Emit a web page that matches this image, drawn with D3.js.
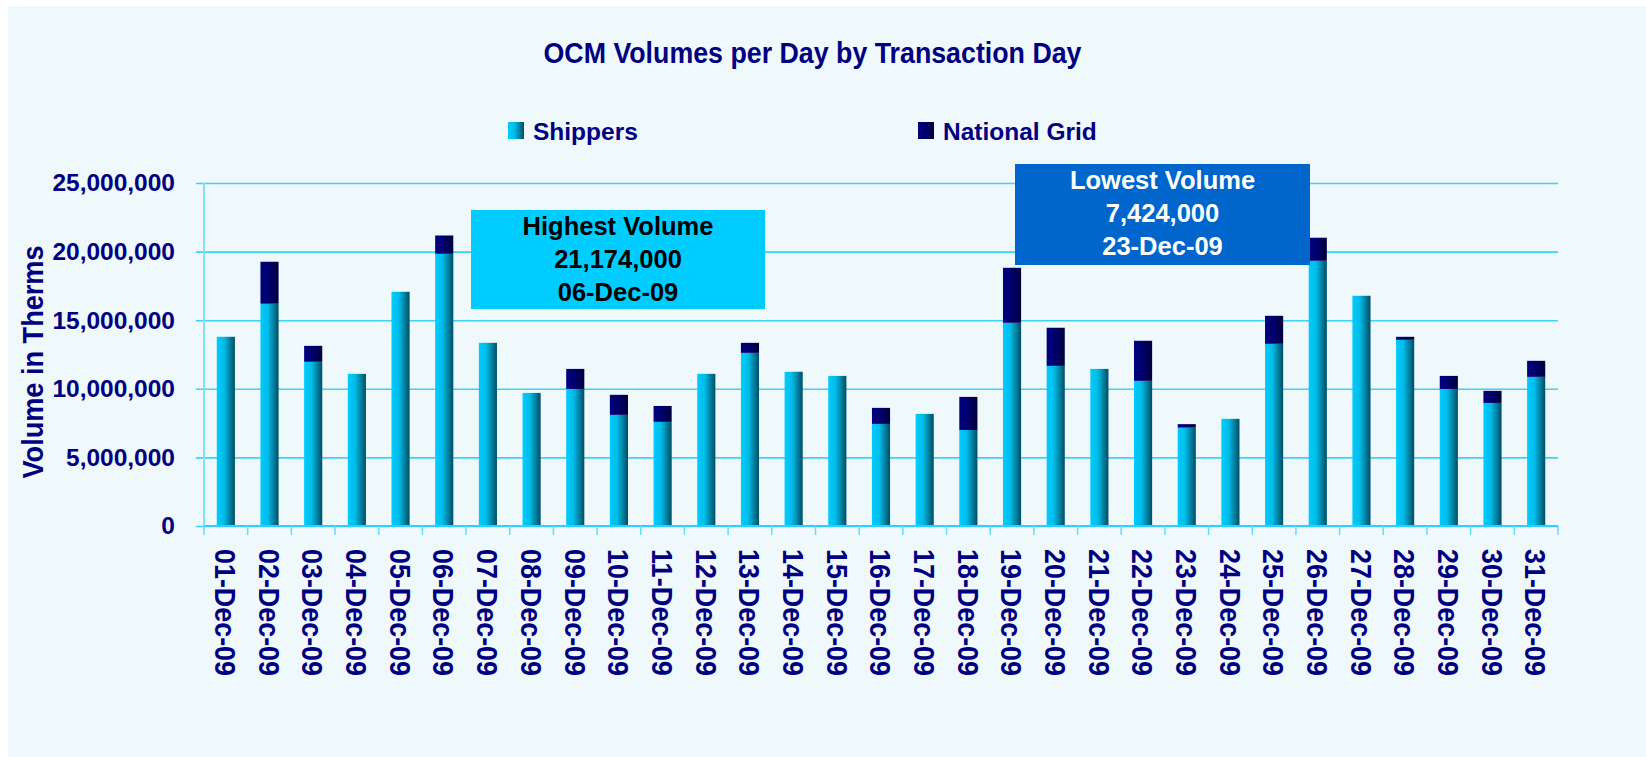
<!DOCTYPE html>
<html>
<head>
<meta charset="utf-8">
<script src="https://cdn.jsdelivr.net/npm/d3@7/dist/d3.min.js"></script>
<style>
    body { margin: 0; background: #ffffff; }
    text { font-family: "Liberation Sans", Arial, sans-serif; font-weight: bold; }
</style>
</head>
<body>
<div id="chart"></div>
<script>
var days = ["01-Dec-09", "02-Dec-09", "03-Dec-09", "04-Dec-09", "05-Dec-09", "06-Dec-09", "07-Dec-09", "08-Dec-09",
    "09-Dec-09", "10-Dec-09", "11-Dec-09", "12-Dec-09", "13-Dec-09", "14-Dec-09", "15-Dec-09", "16-Dec-09",
    "17-Dec-09", "18-Dec-09", "19-Dec-09", "20-Dec-09", "21-Dec-09", "22-Dec-09", "23-Dec-09", "24-Dec-09",
    "25-Dec-09", "26-Dec-09", "27-Dec-09", "28-Dec-09", "29-Dec-09", "30-Dec-09", "31-Dec-09"];
var shippers = [13790000, 16200000, 11970000, 11090000, 17070000, 19840000, 13350000, 9700000,
    9990000, 8100000, 7590000, 11090000, 12620000, 11240000, 10940000, 7440000,
    8170000, 7000000, 14810000, 11670000, 11450000, 10580000, 7170000, 7810000,
    13280000, 19330000, 16780000, 13570000, 9990000, 8970000, 10870000];
var nationalGrid = [0, 3060000, 1160000, 0, 0, 1334000, 0, 0,
    1460000, 1460000, 1160000, 0, 730000, 0, 0, 1170000,
    0, 2410000, 4010000, 2780000, 0, 2920000, 254000, 0,
    2040000, 1680000, 0, 220000, 950000, 880000, 1170000];
var seriesNames = ["Shippers", "National Grid"];
var yTicks = [0, 5000000, 10000000, 15000000, 20000000, 25000000];
var title = "OCM Volumes per Day by Transaction Day";
var yTitle = "Volume in Therms";

var margin = { top: 183, right: 88, bottom: 231, left: 204 },
    width = 1646 - margin.left - margin.right,
    height = 757 - margin.top - margin.bottom;
var navy = "#000080";
var gridColor = "#3fd2f4";

var svg = d3.select("#chart").append("svg")
    .attr("width", 1646)
    .attr("height", 757);

// gradients for the bar fills
var defs = svg.append("defs");
var gradShip = defs.append("linearGradient").attr("id", "gShip");
gradShip.append("stop").attr("offset", "0%").attr("stop-color", "#00ccff");
gradShip.append("stop").attr("offset", "40%").attr("stop-color", "#00bde9");
gradShip.append("stop").attr("offset", "100%").attr("stop-color", "#004d63");
var gradNg = defs.append("linearGradient").attr("id", "gNg");
gradNg.append("stop").attr("offset", "0%").attr("stop-color", "#000080");
gradNg.append("stop").attr("offset", "45%").attr("stop-color", "#00006e");
gradNg.append("stop").attr("offset", "100%").attr("stop-color", "#00003c");
var fills = ["url(#gShip)", "url(#gNg)"];

svg.append("rect")
    .attr("x", 8).attr("y", 6)
    .attr("width", 1646 - 8).attr("height", 757 - 6)
    .attr("fill", "#eff8fa");

svg.append("text")
    .attr("x", 812.5).attr("y", 63)
    .attr("text-anchor", "middle")
    .attr("font-size", 29)
    .attr("textLength", 538)
    .attr("lengthAdjust", "spacingAndGlyphs")
    .attr("fill", navy)
    .text(title);

// legend
var legendX = [508, 918];
var legend = svg.selectAll(".legend")
    .data(seriesNames)
    .enter().append("g")
    .attr("class", "legend")
    .attr("transform", function (d, i) { return "translate(" + legendX[i] + ",122)"; });
legend.append("rect")
    .attr("width", 16).attr("height", 17)
    .attr("fill", function (d, i) { return fills[i]; });
legend.append("text")
    .attr("x", 25).attr("y", 17.5)
    .attr("font-size", 24.5)
    .attr("fill", navy)
    .text(function (d) { return d; });

var g = svg.append("g")
    .attr("transform", "translate(" + margin.left + "," + margin.top + ")");

var x = d3.scaleBand()
    .domain(days)
    .range([0, width])
    .paddingInner(0.585)
    .paddingOuter(0.2925);
var y = d3.scaleLinear()
    .domain([0, 25000000])
    .range([height, 0]);

// gridlines and y labels
var yAxis = d3.axisLeft(y)
    .tickValues(yTicks)
    .tickFormat(d3.format(","))
    .tickSizeInner(-width - 8)
    .tickSizeOuter(0)
    .tickPadding(21);
var yg = g.append("g")
    .attr("transform", "translate(-8,0)")
    .call(yAxis);
yg.select(".domain").remove();
yg.selectAll(".tick line")
    .attr("stroke", gridColor)
    .attr("stroke-width", 1.6);
yg.selectAll(".tick text")
    .attr("font-size", 24.5)
    .attr("font-family", "Liberation Sans, Arial, sans-serif")
    .attr("fill", navy);

g.append("line")
    .attr("x1", 0).attr("x2", 0)
    .attr("y1", 0).attr("y2", height)
    .attr("stroke", "#7fe2fa")
    .attr("stroke-width", 2);

// stacked bars
var rows = days.map(function (d, i) {
    return { day: d, shippers: shippers[i], nationalGrid: nationalGrid[i] };
});
var stack = d3.stack().keys(["shippers", "nationalGrid"]);
var layers = g.selectAll(".layer")
    .data(stack(rows))
    .enter().append("g")
    .attr("class", "layer")
    .attr("fill", function (d, i) { return fills[i]; });
layers.selectAll("rect")
    .data(function (d) { return d.filter(function (p) { return p[1] > p[0]; }); })
    .enter().append("rect")
    .attr("x", function (d) { return x(d.data.day); })
    .attr("y", function (d) { return y(d[1]); })
    .attr("width", x.bandwidth())
    .attr("height", function (d) { return y(d[0]) - y(d[1]); });

// x axis with ticks between categories
g.append("line")
    .attr("x1", 0).attr("x2", width)
    .attr("y1", height).attr("y2", height)
    .attr("stroke", "#33ccff")
    .attr("stroke-width", 2);
g.selectAll(".xtick")
    .data(d3.range(days.length + 1))
    .enter().append("line")
    .attr("class", "xtick")
    .attr("x1", function (i) { return i * x.step(); })
    .attr("x2", function (i) { return i * x.step(); })
    .attr("y1", height).attr("y2", height + 9)
    .attr("stroke", "#66dcfa")
    .attr("stroke-width", 1.5);
g.selectAll(".xlabel")
    .data(days)
    .enter().append("text")
    .attr("class", "xlabel")
    .attr("transform", function (d) {
        return "translate(" + (x(d) + x.bandwidth() / 2) + "," + (height + 23) + ") rotate(90)";
    })
    .attr("dy", "0.358em")
    .attr("font-size", 30)
    .attr("textLength", 127)
    .attr("lengthAdjust", "spacingAndGlyphs")
    .attr("fill", navy)
    .text(function (d) { return d; });

svg.append("text")
    .attr("transform", "translate(43,362) rotate(-90)")
    .attr("text-anchor", "middle")
    .attr("font-size", 29)
    .attr("textLength", 233)
    .attr("lengthAdjust", "spacingAndGlyphs")
    .attr("fill", navy)
    .text(yTitle);

// highest / lowest call-outs
var totals = shippers.map(function (s, i) { return s + nationalGrid[i]; });
var hi = d3.maxIndex(totals), lo = d3.minIndex(totals);
var fmt = d3.format(",");
var notes = [
    { lines: ["Highest Volume", fmt(totals[hi]), days[hi]], x: 471, y: 210, w: 294, h: 99, fill: "#00ccff", color: "#000000" },
    { lines: ["Lowest Volume", fmt(totals[lo]), days[lo]], x: 1015, y: 164, w: 295, h: 101, fill: "#0066cc", color: "#ffffff" }
];
var note = svg.selectAll(".note")
    .data(notes)
    .enter().append("g")
    .attr("class", "note")
    .attr("transform", function (d) { return "translate(" + d.x + "," + d.y + ")"; });
note.append("rect")
    .attr("width", function (d) { return d.w; })
    .attr("height", function (d) { return d.h; })
    .attr("fill", function (d) { return d.fill; });
note.each(function (d) {
    d3.select(this).selectAll("text")
        .data(d.lines)
        .enter().append("text")
        .attr("x", d.w / 2)
        .attr("y", function (t, i) { return 25 + i * 33; })
        .attr("text-anchor", "middle")
        .attr("font-size", 25.5)
        .attr("fill", d.color)
        .text(function (t) { return t; });
});
</script>
</body>
</html>
